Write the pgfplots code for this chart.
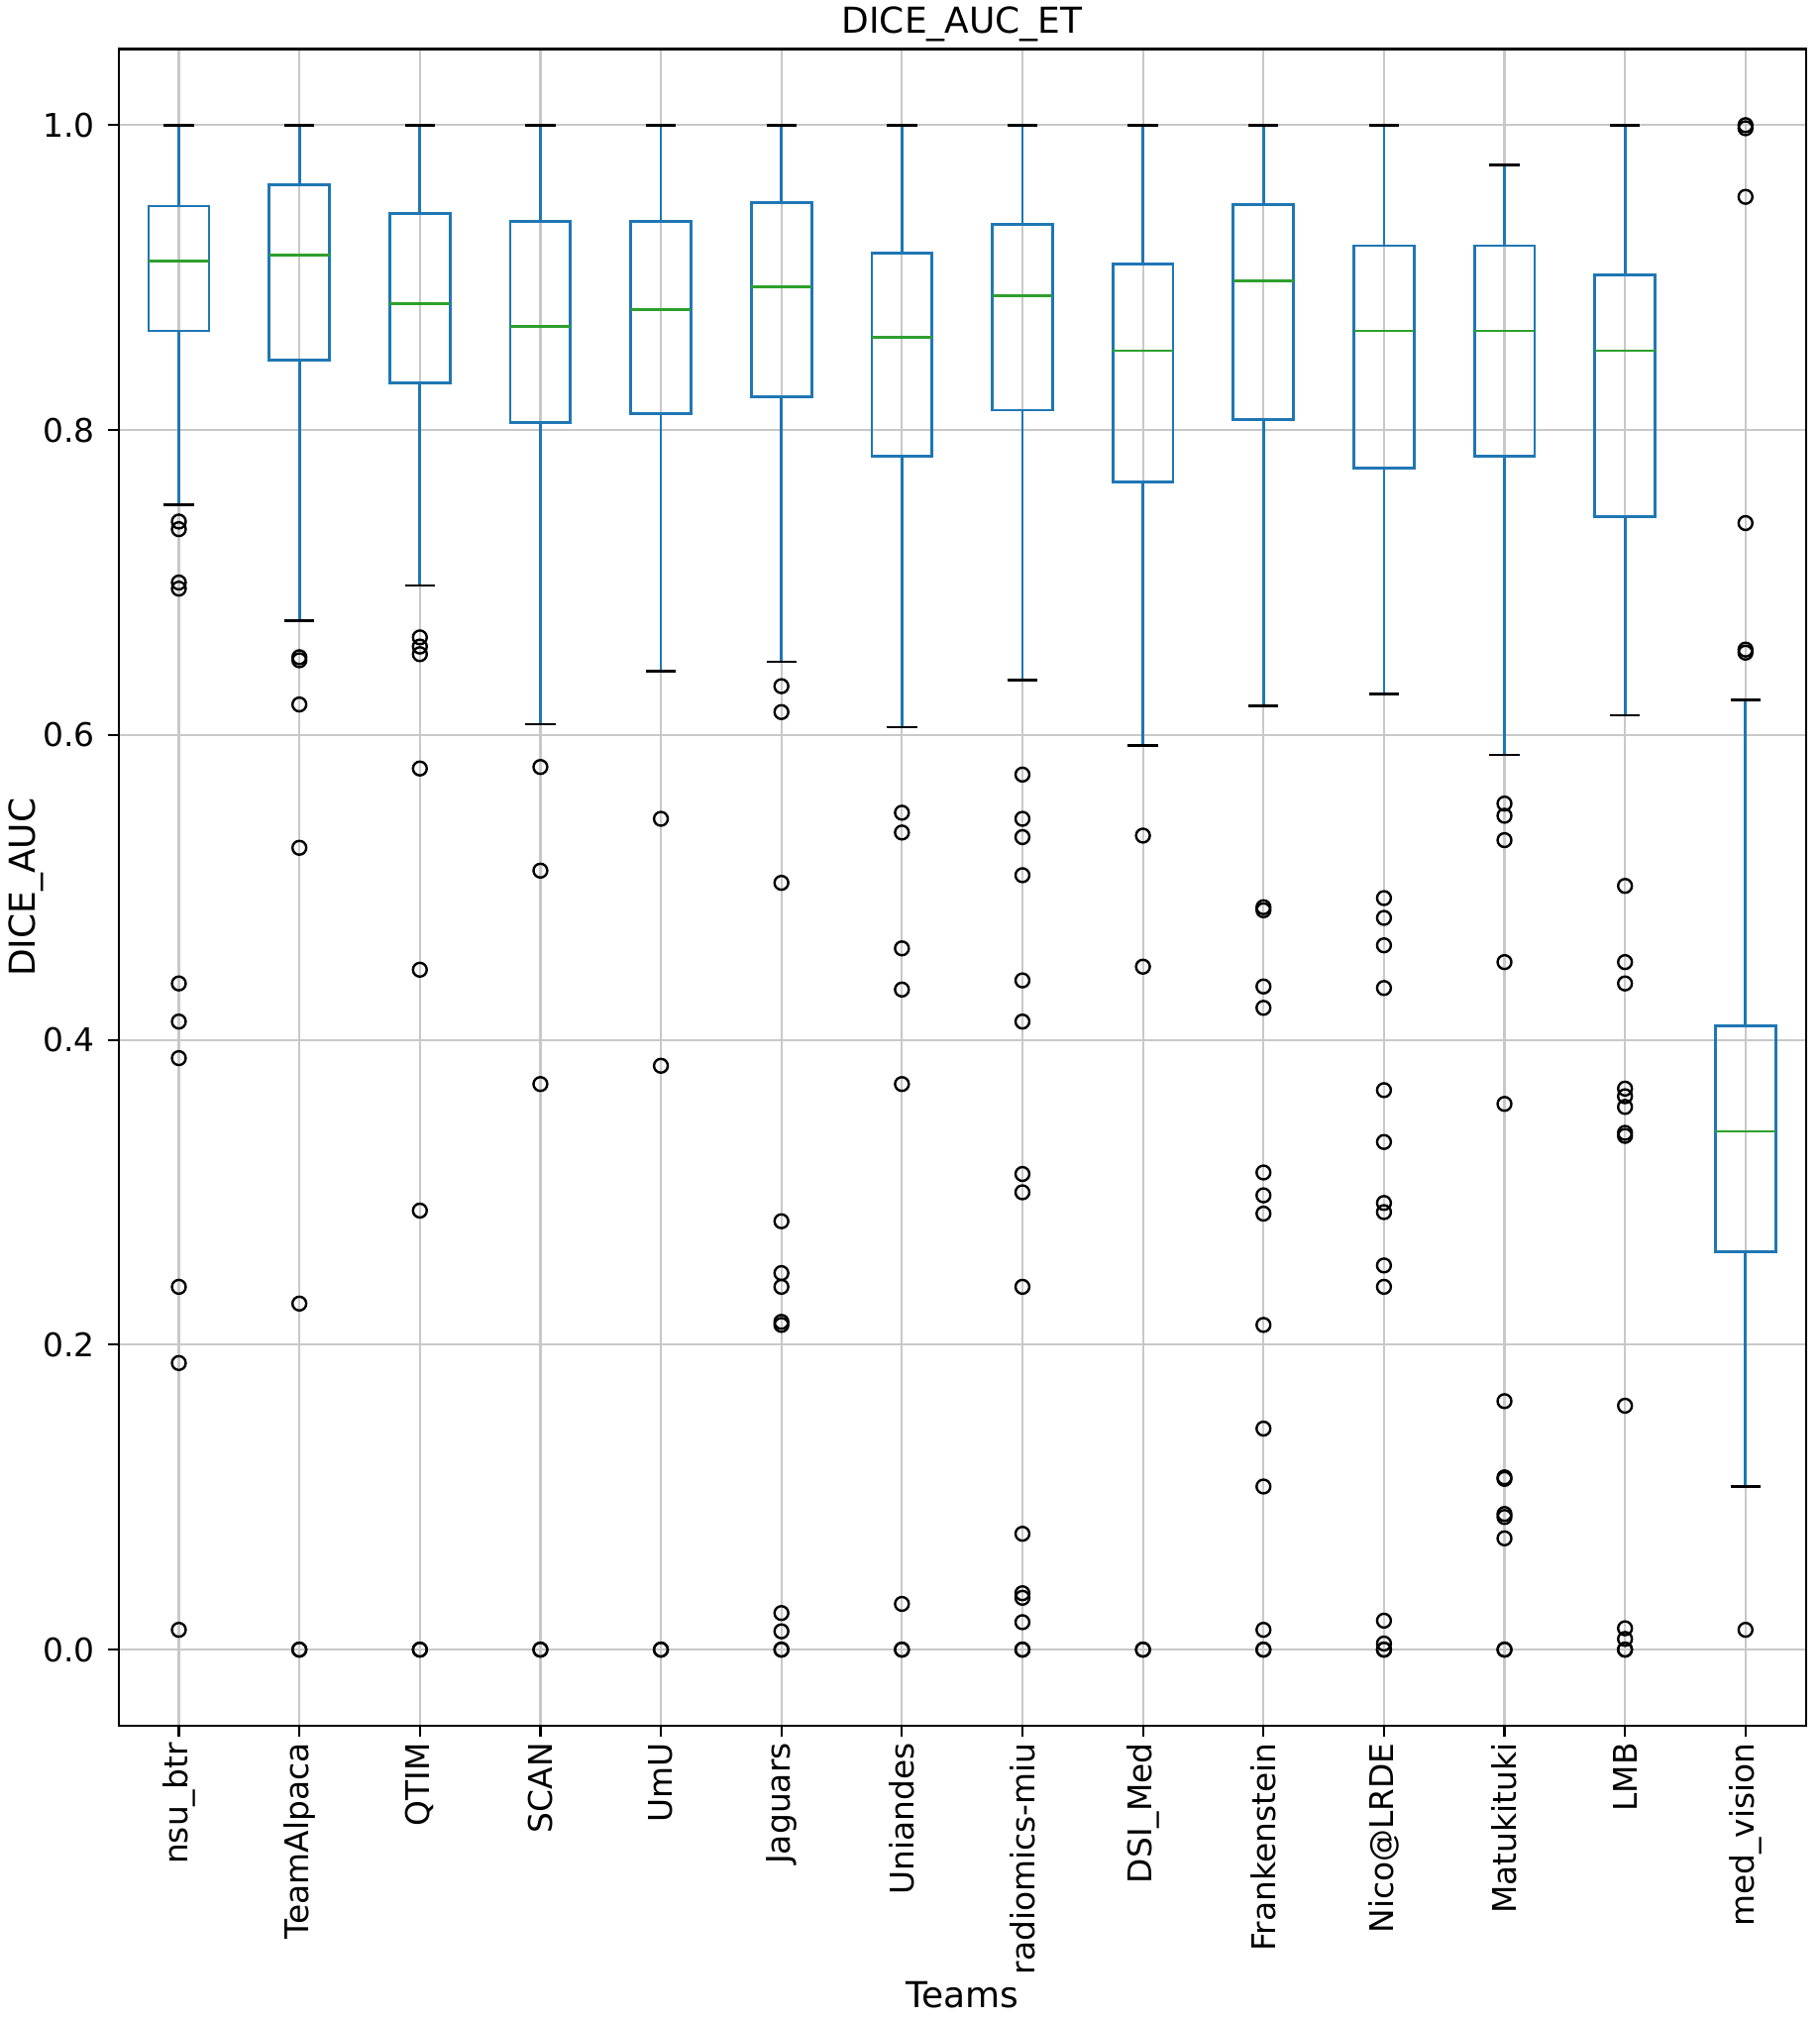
\documentclass[border=0pt]{standalone}
\usepackage{fontspec}
\setmainfont{DejaVu Sans}
\usepackage{pgfplots}
\pgfplotsset{compat=1.18}
\usepgfplotslibrary{statistics}
\definecolor{boxblue}{HTML}{1F77B4}
\definecolor{medgreen}{HTML}{2CA02C}
\definecolor{gridgray}{HTML}{C8C8C8}
\newcommand{\fs}{\fontsize{8.95}{10}\selectfont}
\newcommand{\fl}{\fontsize{9.8}{11}\selectfont}
\pgfplotsset{
  boxplot/draw/lower whisker/.code={%
    \draw[/pgfplots/boxplot/every whisker/.try]
      (boxplot box cs:\pgfplotsboxplotvalue{lower whisker},0.5) --
      (boxplot box cs:\pgfplotsboxplotvalue{lower quartile},0.5);
    \draw[black,line width=0.7pt]
      (boxplot whisker cs:\pgfplotsboxplotvalue{lower whisker},0) --
      (boxplot whisker cs:\pgfplotsboxplotvalue{lower whisker},1);
  },
  boxplot/draw/upper whisker/.code={%
    \draw[/pgfplots/boxplot/every whisker/.try]
      (boxplot box cs:\pgfplotsboxplotvalue{upper quartile},0.5) --
      (boxplot box cs:\pgfplotsboxplotvalue{upper whisker},0.5);
    \draw[black,line width=0.7pt]
      (boxplot whisker cs:\pgfplotsboxplotvalue{upper whisker},0) --
      (boxplot whisker cs:\pgfplotsboxplotvalue{upper whisker},1);
  },
  mybox/.style={
    draw=boxblue, line width=0.75pt, solid,
    mark=o, mark size=1.9pt,
    mark options={draw=black, fill=none, line width=0.65pt, solid},
    boxplot/draw direction=y,
    boxplot/box extend=0.5,
    boxplot/whisker extend=0.25,
    boxplot/every median/.style={draw=medgreen, line width=0.75pt},
    boxplot/every box/.style={draw=boxblue, line width=0.75pt},
    boxplot/every whisker/.style={draw=boxblue, line width=0.75pt},
  },
}
\begin{document}
\begin{tikzpicture}
\begin{axis}[
  scale only axis, width=463.5pt, height=460.7pt,
  xmin=0.5, xmax=14.5, ymin=-0.05, ymax=1.05,
  xtick={1,2,3,4,5,6,7,8,9,10,11,12,13,14},
  xticklabels={nsu\_btr, TeamAlpaca, QTIM, SCAN, UmU, Jaguars, Uniandes, radiomics-miu, DSI\_Med, Frankenstein, Nico@LRDE, Matukituki, LMB, med\_vision},
  xticklabel style={rotate=90, anchor=east, font=\fs, inner xsep=1.5pt},
  ytick={0,0.2,0.4,0.6,0.8,1.0},
  yticklabel style={font=\fs, /pgf/number format/.cd, fixed, fixed zerofill, precision=1},
  /pgf/number format/assume math mode=true,
  grid=major, grid style={gridgray, line width=0.6pt},
  tick align=outside, xtick pos=left, ytick pos=left,
  major tick length=3pt, tick style={black, line width=0.6pt},
  axis line style={black, line width=0.6pt},
  title={DICE\_AUC\_ET},
  every axis title/.style={at={(axis description cs:0.5,1.0146)}, anchor=center, font=\fl},
  xlabel={Teams}, ylabel={DICE\_AUC},
  every axis x label/.style={at={(axis description cs:0.5,-0.1607)}, anchor=center, font=\fl},
  every axis y label/.style={at={(axis description cs:-0.055,0.5)}, rotate=90, anchor=center, font=\fl},
  clip=false,
]
\addplot[mybox, boxplot prepared={draw position=1, lower whisker=0.751, lower quartile=0.865, median=0.911, upper quartile=0.947, upper whisker=1.0}]
  table[row sep=\\, y index=0] {y\\0.740\\0.735\\0.700\\0.696\\0.437\\0.412\\0.388\\0.238\\0.188\\0.013\\};
\addplot[mybox, boxplot prepared={draw position=2, lower whisker=0.675, lower quartile=0.846, median=0.915, upper quartile=0.961, upper whisker=1.0}]
  table[row sep=\\, y index=0] {y\\0.651\\0.649\\0.620\\0.526\\0.227\\0.0\\0.0\\};
\addplot[mybox, boxplot prepared={draw position=3, lower whisker=0.698, lower quartile=0.831, median=0.883, upper quartile=0.942, upper whisker=1.0}]
  table[row sep=\\, y index=0] {y\\0.664\\0.658\\0.653\\0.578\\0.446\\0.288\\0.0\\0.0\\};
\addplot[mybox, boxplot prepared={draw position=4, lower whisker=0.607, lower quartile=0.805, median=0.868, upper quartile=0.937, upper whisker=1.0}]
  table[row sep=\\, y index=0] {y\\0.579\\0.511\\0.371\\0.0\\0.0\\};
\addplot[mybox, boxplot prepared={draw position=5, lower whisker=0.642, lower quartile=0.811, median=0.879, upper quartile=0.937, upper whisker=1.0}]
  table[row sep=\\, y index=0] {y\\0.545\\0.383\\0.0\\0.0\\};
\addplot[mybox, boxplot prepared={draw position=6, lower whisker=0.648, lower quartile=0.822, median=0.894, upper quartile=0.949, upper whisker=1.0}]
  table[row sep=\\, y index=0] {y\\0.632\\0.615\\0.503\\0.281\\0.247\\0.238\\0.215\\0.213\\0.024\\0.012\\0.0\\0.0\\};
\addplot[mybox, boxplot prepared={draw position=7, lower whisker=0.605, lower quartile=0.783, median=0.861, upper quartile=0.916, upper whisker=1.0}]
  table[row sep=\\, y index=0] {y\\0.549\\0.536\\0.460\\0.433\\0.371\\0.030\\0.0\\0.0\\};
\addplot[mybox, boxplot prepared={draw position=8, lower whisker=0.636, lower quartile=0.813, median=0.888, upper quartile=0.935, upper whisker=1.0}]
  table[row sep=\\, y index=0] {y\\0.574\\0.545\\0.533\\0.508\\0.439\\0.412\\0.312\\0.300\\0.238\\0.076\\0.037\\0.034\\0.018\\0.0\\0.0\\};
\addplot[mybox, boxplot prepared={draw position=9, lower whisker=0.593, lower quartile=0.766, median=0.852, upper quartile=0.909, upper whisker=1.0}]
  table[row sep=\\, y index=0] {y\\0.534\\0.448\\0.0\\0.0\\};
\addplot[mybox, boxplot prepared={draw position=10, lower whisker=0.619, lower quartile=0.807, median=0.898, upper quartile=0.948, upper whisker=1.0}]
  table[row sep=\\, y index=0] {y\\0.487\\0.485\\0.435\\0.421\\0.313\\0.298\\0.286\\0.213\\0.145\\0.107\\0.013\\0.0\\0.0\\};
\addplot[mybox, boxplot prepared={draw position=11, lower whisker=0.627, lower quartile=0.775, median=0.865, upper quartile=0.921, upper whisker=1.0}]
  table[row sep=\\, y index=0] {y\\0.493\\0.480\\0.462\\0.434\\0.367\\0.333\\0.293\\0.287\\0.252\\0.238\\0.019\\0.004\\0.0\\0.0\\};
\addplot[mybox, boxplot prepared={draw position=12, lower whisker=0.587, lower quartile=0.783, median=0.865, upper quartile=0.921, upper whisker=0.974}]
  table[row sep=\\, y index=0] {y\\0.555\\0.547\\0.531\\0.451\\0.358\\0.163\\0.113\\0.112\\0.089\\0.087\\0.073\\0.0\\0.0\\};
\addplot[mybox, boxplot prepared={draw position=13, lower whisker=0.613, lower quartile=0.743, median=0.852, upper quartile=0.902, upper whisker=1.0}]
  table[row sep=\\, y index=0] {y\\0.501\\0.451\\0.437\\0.368\\0.363\\0.356\\0.339\\0.337\\0.160\\0.014\\0.007\\0.0\\0.0\\};
\addplot[mybox, boxplot prepared={draw position=14, lower whisker=0.107, lower quartile=0.261, median=0.340, upper quartile=0.409, upper whisker=0.623}]
  table[row sep=\\, y index=0] {y\\1.0\\0.998\\0.953\\0.739\\0.656\\0.654\\0.013\\};
\coordinate (A) at (rel axis cs:0,0);
\coordinate (B) at (rel axis cs:1,1);
\end{axis}
\pgfresetboundingbox
\path[use as bounding box] ([shift={(-32.58pt,-81.09pt)}]A) rectangle ([shift={(3.9pt,13.46pt)}]B);
\end{tikzpicture}
\end{document}
